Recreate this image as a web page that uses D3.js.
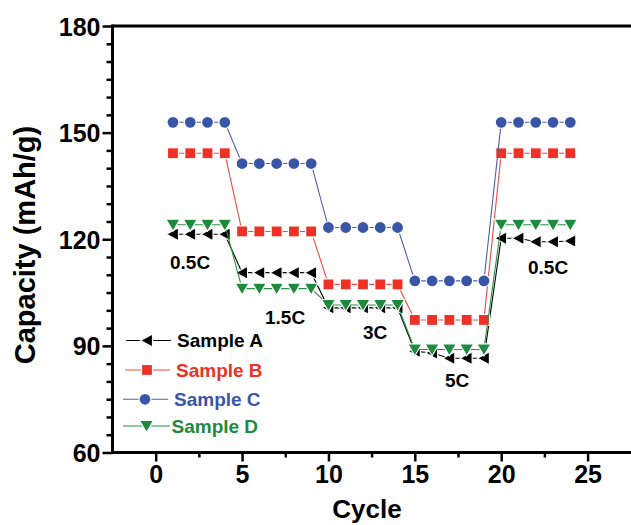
<!DOCTYPE html>
<html>
<head>
<meta charset="utf-8">
<script src="https://cdn.jsdelivr.net/npm/d3@7"></script>
<style>
  html, body { margin: 0; padding: 0; background: #fff; }
  svg { display: block; }
  text { font-family: "Liberation Sans", Arial, sans-serif; font-weight: bold; }
</style>
</head>
<body>
<svg id="chart" width="631" height="525"></svg>
<script>
// ---- data ----
const cycles  = [1,2,3,4, 5,6,7,8,9, 10,11,12,13,14, 15,16,17,18,19, 20,21,22,23,24];
const sampleA = [121.4,121.4,121.4,121.4, 110.6,110.6,110.6,110.6,110.6, 100.7,100.7,100.7,100.7,100.7, 88.5,88.0,86.5,86.5,86.5, 120.3,120.3,119.3,119.3,119.5];
const sampleB = [144.2,144.2,144.2,144.2, 122.2,122.2,122.2,122.2,122.2, 107.3,107.3,107.3,107.3,107.3, 97.3,97.3,97.3,97.3,97.3, 144.2,144.2,144.2,144.2,144.2];
const sampleC = [152.9,152.9,152.9,152.9, 141.3,141.3,141.3,141.3,141.3, 123.3,123.3,123.3,123.3,123.3, 108.3,108.3,108.3,108.3,108.3, 152.9,152.9,152.9,152.9,152.9];
const sampleD = [124.1,124.1,124.1,124.1, 106.1,106.1,106.1,106.1,106.1, 101.5,101.5,101.5,101.5,101.5, 89.0,89.0,89.0,89.0,89.0, 124.1,124.1,124.1,124.1,124.1];
const seriesNames = ["Sample A","Sample B","Sample C","Sample D"];
const yTicks = [60, 90, 120, 150, 180];
const yMinorTicks = [65,70,75,80,85, 95,100,105,110,115, 125,130,135,140,145, 155,160,165,170,175];
const xTicks = [0, 5, 10, 15, 20, 25];
const xMinorTicks = [2.5, 7.5, 12.5, 17.5, 22.5];
const rateLabels = ["0.5C", "1.5C", "3C", "5C", "0.5C"];

// ---- styles ----
const colors = ["#000000", "#ee3124", "#3a55a6", "#1e8a3e"];
const lineColors = ["#000000", "#f04a40", "#4a62ae", "#2a9048"];
const shapes = ["left", "square", "circle", "down"];

const svg = d3.select("#chart");
const x = d3.scaleLinear().domain([-2.5, 27.6]).range([112.5, 632.5]);
const y = d3.scaleLinear().domain([60, 180]).range([452.5, 26]);

// frame lines
const axisW = 3;
svg.append("line").attr("x1", x(-2.5)).attr("x2", 631).attr("y1", y(180)).attr("y2", y(180))
  .attr("stroke", "#000").attr("stroke-width", axisW);

// y axis
const yMajor = d3.axisLeft(y).tickValues(yTicks).tickSize(10).tickPadding(2).tickFormat(d3.format("d"));
const gy = svg.append("g").attr("transform", `translate(${x(-2.5)},0)`).call(yMajor);
gy.select(".domain").attr("stroke-width", axisW).attr("d", `M0,${y(180)-1.5}V${y(60)+1.5}`);
gy.selectAll(".tick line").attr("stroke-width", 2.5);
gy.selectAll(".tick text").attr("font-size", 25).attr("fill", "#000").attr("dy", "0.36em");
const gy2 = svg.append("g").attr("transform", `translate(${x(-2.5)},0)`)
  .call(d3.axisLeft(y).tickValues(yMinorTicks).tickSize(6).tickFormat(""));
gy2.select(".domain").remove();
gy2.selectAll(".tick line").attr("stroke-width", 2.5);

// x axis
const xMajor = d3.axisBottom(x).tickValues(xTicks).tickSize(9).tickPadding(4).tickFormat(d3.format("d"));
const gx = svg.append("g").attr("transform", `translate(0,${y(60)})`).call(xMajor);
gx.select(".domain").attr("stroke-width", axisW).attr("d", `M${x(-2.5)-1.5},0H631`);
gx.selectAll(".tick line").attr("stroke-width", 2.5);
gx.selectAll(".tick text").attr("font-size", 25).attr("fill", "#000");
const gx2 = svg.append("g").attr("transform", `translate(0,${y(60)})`)
  .call(d3.axisBottom(x).tickValues(xMinorTicks).tickSize(5).tickFormat(""));
gx2.select(".domain").remove();
gx2.selectAll(".tick line").attr("stroke-width", 2.5);

// axis titles
svg.append("text").attr("x", 367).attr("y", 518).attr("text-anchor", "middle")
  .attr("font-size", 26).text("Cycle");
svg.append("text").attr("transform", "translate(35,245) rotate(-90)").attr("text-anchor", "middle")
  .attr("font-size", 29).text("Capacity (mAh/g)");

// marker drawing
function marker(g, shape, cx, cy, color) {
  let el;
  if (shape === "circle") {
    el = g.append("circle").attr("cx", cx).attr("cy", cy).attr("r", 6);
  } else if (shape === "square") {
    el = g.append("rect").attr("x", cx - 5.5).attr("y", cy - 5.5).attr("width", 11).attr("height", 11);
  } else if (shape === "left") {
    el = g.append("path").attr("d", `M${cx - 6.5},${cy}L${cx + 5.5},${cy - 6.5}L${cx + 5.5},${cy + 6.5}Z`);
  } else {
    el = g.append("path").attr("d", `M${cx - 7},${cy - 5.5}L${cx + 7},${cy - 5.5}L${cx},${cy + 6.5}Z`);
  }
  el.attr("fill", color).attr("stroke", "#fff").attr("stroke-width", 1.2);
}

const allSeries = [sampleA, sampleB, sampleC, sampleD];
const line = d3.line().x(d => x(d[0])).y(d => y(d[1]));
allSeries.forEach((vals, i) => {
  const pts = cycles.map((c, j) => [c, vals[j]]);
  const g = svg.append("g");
  g.append("path").attr("d", line(pts)).attr("fill", "none")
    .attr("stroke", lineColors[i]).attr("stroke-width", 1.1);
  pts.forEach(p => marker(g, shapes[i], x(p[0]), y(p[1]), colors[i]));
});

// rate labels
const ratePos = [[170, 268.5], [265, 323.5], [363, 338.5], [445, 387], [528, 273.5]];
rateLabels.forEach((t, i) => {
  svg.append("text").attr("x", ratePos[i][0]).attr("y", ratePos[i][1])
    .attr("font-size", 19).attr("fill", "#000").text(t);
});

// legend
const legY = [340.5, 370, 399.3, 426];
const legX = [[126, 171, 147, 177], [125, 170, 147, 176], [123, 168, 145, 174], [123, 170, 146.5, 171.5]];
seriesNames.forEach((name, i) => {
  const g = svg.append("g");
  g.append("line").attr("x1", legX[i][0]).attr("x2", legX[i][1]).attr("y1", legY[i]).attr("y2", legY[i])
    .attr("stroke", lineColors[i]).attr("stroke-width", 1.1);
  marker(g, shapes[i], legX[i][2], legY[i], colors[i]);
  g.append("text").attr("x", legX[i][3]).attr("y", legY[i] + 6.8).attr("font-size", 19)
    .attr("fill", colors[i]).text(name);
});
</script>
</body>
</html>
